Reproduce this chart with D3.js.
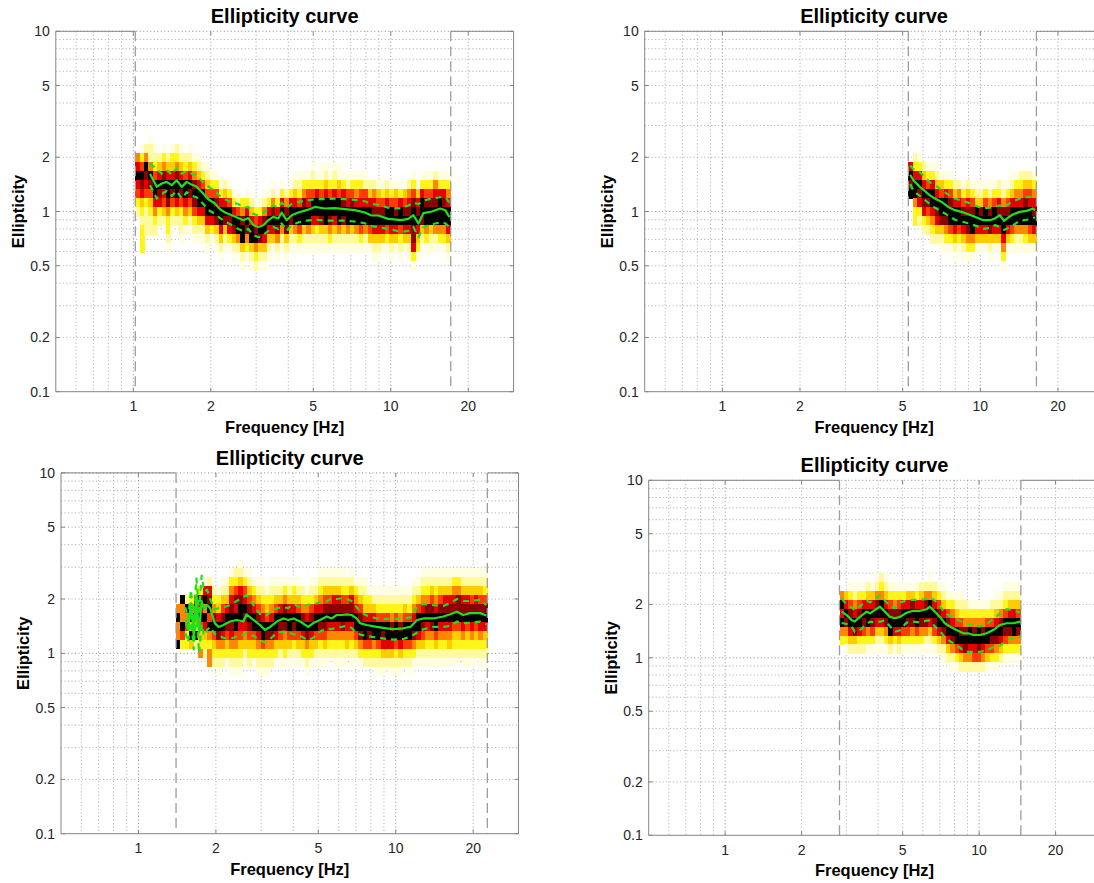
<!DOCTYPE html>
<html>
<head>
<meta charset="utf-8">
<script src="https://cdn.jsdelivr.net/npm/d3@7"></script>
<style>
  body { margin: 0; background: #fff; }
  svg { display: block; font-family: "Liberation Sans", Arial, Helvetica, sans-serif; }
  .title { font-size: 20px; font-weight: bold; fill: #000; }
  .axis-label { font-size: 16.5px; font-weight: bold; fill: #000; }
  .tick-label { font-size: 14px; fill: #262626; }
</style>
</head>
<body>
<svg id="chart" width="1094" height="883"></svg>
<script>
const xDomain = [0.5, 30];
const yDomain = [0.1, 10];
const xTickValues = [1, 2, 5, 10, 20];
const yTickValues = [0.1, 0.2, 0.5, 1, 2, 5, 10];
const binDecade = 0.05; // one histogram row = 0.05 decade of ellipticity

// histogram levels 0 (empty) .. 9 (most counts), flipped "hot" map
const levelColors = ["none", "#fffde2", "#fffa9e", "#fff51a", "#ffcc00", "#ff8800", "#ff3c00", "#e60000", "#8c0000", "#000000"];

// ---- panel 1 (top left) ----
const p1Range = [1.018, 17.1];
const p1TopRow = 8; // cells strings run from this row downwards
const p1Cells = [
  "00579 76320 00000", "01369 87432 33300", "02598 76322 20000", "12259 86432 20000",
  "01236 99753 20000", "00247 98732 00000", "01358 97642 10000", "00247 99853 32100",
  "01347 98632 10000", "02358 99742 00000", "01247 98632 21000", "00236 99753 10000",
  "01247 98642 10000", "00135 89863 21000", "00124 79974 21000", "00013 69974 21000",
  "00012 46997 42100", "00001 36997 31000", "00001 36898 42100", "00000 13799 74210",
  "00000 24798 42100", "00000 13698 73100", "00000 01379 84210", "00000 01269 95200",
  "00000 00358 99421", "00000 01379 85310", "00000 00247 99421", "00000 00136 89532",
  "00000 00137 98421", "00000 01258 97421", "00000 01379 74210", "00000 12589 74100",
  "00000 01379 85210", "00000 13799 52100", "00000 02589 84210", "00000 13798 42100",
  "00001 24799 52100", "00001 23699 63100", "00001 35899 42100", "00001 36799 52100",
  "00012 36997 42100", "00001 37997 32100", "00011 36998 42100", "00012 47999 42100",
  "00001 36998 53100", "00012 37997 42100", "00011 46999 52100", "00001 37898 42100",
  "00001 26799 52100", "00001 36899 42100", "00001 35799 52100", "00001 36799 63100",
  "00001 26799 52100", "00000 24799 64100", "00000 25789 74210", "00000 14689 74210",
  "00000 13689 74100", "00000 24799 63100", "00000 13699 74210", "00000 14689 74100",
  "00000 13799 63210", "00000 14689 74100", "00000 25789 74210", "00001 36899 88731",
  "00000 14789 74310", "00001 37998 42100", "00001 36899 53100", "00001 36899 42100",
  "00002 57899 52100", "00001 37999 53100", "00001 37899 53100", "00001 35799 74210"
];
const p1Freq = [1.161, 1.233, 1.289, 1.348, 1.41, 1.474, 1.542, 1.612, 1.686, 1.763,
  1.87, 1.955, 2.076, 2.172, 2.272, 2.412, 2.558, 2.674, 2.797, 2.925,
  3.059, 3.199, 3.345, 3.498, 3.658, 3.769, 3.942, 4.122, 4.372, 4.71,
  5.074, 5.548, 6.067, 6.634, 7.254, 7.932, 8.418, 8.937, 9.772, 11.01,
  11.69, 12.24, 12.81, 13.4, 14.45, 15.56, 16.29, 16.9];
const p1Median = [1.62, 1.37, 1.43, 1.46, 1.40, 1.49, 1.37, 1.46, 1.41, 1.37,
  1.26, 1.17, 1.107, 1.03, 0.987, 0.954, 0.92, 0.895, 0.92, 0.839,
  0.821, 0.839, 0.895, 0.933, 0.915, 0.987, 0.895, 0.954, 0.987, 1.017,
  1.06, 1.039, 1.045, 1.03, 1.017, 0.987, 0.95, 0.95, 0.91, 0.895,
  0.91, 0.954, 0.858, 0.98, 1.0, 1.039, 1.017, 0.93];
const p1Upper = [1.85, 1.72, 1.62, 1.70, 1.60, 1.75, 1.62, 1.68, 1.62, 1.58,
  1.45, 1.38, 1.30, 1.22, 1.17, 1.12, 1.10, 1.05, 1.06, 0.97,
  0.95, 0.98, 1.04, 1.08, 1.05, 1.12, 1.05, 1.10, 1.13, 1.15,
  1.17, 1.17, 1.18, 1.17, 1.16, 1.14, 1.10, 1.09, 1.05, 1.04,
  1.08, 1.12, 1.10, 1.15, 1.18, 1.20, 1.20, 1.12];
const p1Lower = [1.40, 1.18, 1.25, 1.30, 1.22, 1.30, 1.18, 1.28, 1.22, 1.20,
  1.10, 1.02, 0.97, 0.92, 0.88, 0.84, 0.80, 0.78, 0.80, 0.74,
  0.72, 0.74, 0.78, 0.82, 0.80, 0.86, 0.78, 0.84, 0.87, 0.89,
  0.90, 0.89, 0.89, 0.89, 0.88, 0.86, 0.83, 0.82, 0.80, 0.77,
  0.78, 0.82, 0.72, 0.82, 0.85, 0.87, 0.86, 0.82];

// ---- panel 2 (top right) ----
const p2Range = [5.26, 16.5];
const p2TopRow = 8;
const p2Cells = [
  "00079 89000 00000", "00237 99533 00000", "00137 98732 00000", "00024 79873 20000",
  "00013 69864 20000", "00013 79975 32000", "00012 47987 42000", "00001 46998 42100",
  "00001 37998 53100", "00001 36899 63100", "00000 24799 74210", "00000 25799 63100",
  "00000 13689 74210", "00000 24789 85310", "00000 13689 95310", "00000 12499 74100",
  "00000 12489 74100", "00000 13699 74100", "00000 12589 84210", "00000 13699 74100",
  "00000 23789 74100", "00000 12589 97531", "00000 13689 74100", "00001 24799 63100",
  "00001 35799 52100", "00002 35799 52100", "00002 46899 53100", "00002 46799 64100",
  "00001 35789 74100"
];
const p2Freq = [5.35, 5.5, 5.83, 6.38, 6.67, 7.08, 7.51, 7.97, 8.46, 8.98, 9.68,
  10.26, 10.89, 11.39, 11.91, 12.35, 12.83, 13.42, 14.23, 15.13, 16.03, 16.3];
const p2Median = [1.60, 1.49, 1.37, 1.23, 1.18, 1.13, 1.06, 1.017, 0.995, 0.966, 0.926,
  0.895, 0.895, 0.914, 0.954, 0.887, 0.926, 0.966, 0.995, 1.008, 1.039, 1.017];
const p2Upper = [1.80, 1.72, 1.65, 1.45, 1.40, 1.32, 1.24, 1.18, 1.15, 1.12, 1.07,
  1.04, 1.05, 1.07, 1.08, 1.05, 1.10, 1.14, 1.18, 1.20, 1.21, 1.18];
const p2Lower = [1.42, 1.30, 1.22, 1.10, 1.05, 1.00, 0.95, 0.90, 0.88, 0.86, 0.83,
  0.80, 0.81, 0.84, 0.82, 0.79, 0.81, 0.84, 0.89, 0.90, 0.92, 0.93];

// ---- panel 3 (bottom left) ----
const p3Range = [1.40, 22.7];
const p3TopRow = 10;
const p3Cells = [
  "00000 59559 0000", "00009 55963 0000", "00002 95633 0000", "00003 59494 0000",
  "00027 95392 0000", "00038 79643 5000", "00179 59743 2000", "00278 96953 5500",
  "00023 58964 3200", "00013 47985 3210", "00124 68975 3200", "00124 79864 3100",
  "01357 89875 3210", "02368 79965 3210", "12478 99764 3210", "01367 98754 2100",
  "01246 89864 3200", "00135 79964 3100", "00124 68975 3210", "00123 57996 3210",
  "00013 46985 3210", "00123 57985 3200", "00124 69974 3100", "00124 79864 2100",
  "00135 89854 3100", "00124 79964 2100", "00134 79863 2100", "00124 69964 2100",
  "00023 58974 3100", "00013 57985 3210", "00123 68974 3100", "00124 79964 2100",
  "01235 79863 2100", "01246 89864 2100", "01246 89753 2000", "01247 89753 2100",
  "01247 89753 2100", "01236 89853 2100", "00236 89754 2000", "01247 89753 2100",
  "00135 79964 2100", "00124 68985 3100", "00123 47996 3200", "00013 47986 3200",
  "00012 47995 3200", "00012 36996 3210", "00012 36987 4210", "00012 36997 4200",
  "00012 35897 4210", "00012 36996 3210", "00012 35897 4210", "00012 46996 3200",
  "00012 36996 3210", "00123 57985 3100", "00124 69974 2100", "01235 79864 2100",
  "01235 89753 2100", "01246 89853 2100", "01235 79964 2100", "01246 89753 2100",
  "01247 89753 2100", "01247 89754 2100", "01357 89643 2100", "01358 89643 2000",
  "01247 89753 2100", "01247 89643 2100", "01246 89753 2100", "01247 89643 2000",
  "01246 89753 2100", "01236 89743 2100"
];
const p3Freq = [1.52, 1.56, 1.60, 1.64, 1.68, 1.72, 1.76, 1.80, 1.85, 1.90,
  1.98, 2.05, 2.14, 2.27, 2.41, 2.56, 2.63, 2.80, 2.97, 3.10,
  3.25, 3.45, 3.66, 3.82, 4.0, 4.25, 4.57, 4.78, 5.08, 5.39,
  5.64, 5.9, 6.17, 6.45, 6.74, 7.05, 7.26, 7.71, 8.43, 9.22,
  9.79, 10.7, 11.4, 12.1, 12.8, 14.0, 15.3, 16.3, 17.3, 18.3,
  19.4, 21.3, 22.5];
const p3Median = [1.55, 1.35, 1.9, 1.25, 2.1, 1.3, 1.95, 1.75, 1.85, 1.78,
  1.47, 1.40, 1.435, 1.50, 1.53, 1.50, 1.645, 1.53, 1.435, 1.346,
  1.40, 1.50, 1.56, 1.53, 1.56, 1.50, 1.40, 1.47, 1.53, 1.60,
  1.56, 1.63, 1.63, 1.645, 1.63, 1.56, 1.47, 1.435, 1.40, 1.376,
  1.363, 1.376, 1.40, 1.53, 1.56, 1.56, 1.60, 1.645, 1.70, 1.63,
  1.67, 1.67, 1.62];
const p3Upper = [1.8, 1.55, 2.25, 1.45, 2.6, 1.7, 2.7, 2.2, 2.25, 2.0,
  1.75, 1.78, 1.80, 1.85, 1.95, 2.05, 2.10, 1.85, 1.65, 1.60,
  1.68, 1.78, 1.80, 1.78, 1.87, 1.80, 1.86, 1.85, 1.93, 1.94,
  2.02, 2.0, 2.02, 2.0, 1.95, 1.80, 1.70, 1.62, 1.56, 1.55,
  1.55, 1.56, 1.58, 1.80, 1.88, 1.85, 1.83, 1.90, 2.0, 1.95,
  1.95, 1.98, 1.85];
const p3Lower = [1.30, 1.15, 1.6, 1.05, 1.75, 1.0, 1.45, 1.25, 1.35, 1.40,
  1.28, 1.25, 1.22, 1.20, 1.24, 1.27, 1.30, 1.25, 1.18, 1.15,
  1.20, 1.30, 1.32, 1.30, 1.28, 1.25, 1.18, 1.22, 1.32, 1.37,
  1.36, 1.39, 1.40, 1.42, 1.38, 1.30, 1.27, 1.25, 1.22, 1.20,
  1.19, 1.20, 1.24, 1.30, 1.36, 1.40, 1.40, 1.42, 1.50, 1.47,
  1.48, 1.50, 1.45];

// ---- panel 4 (bottom right) ----
const p4Range = [2.82, 14.6];
const p4TopRow = 9;
const p4Cells = [
  "00597 95300 0", "00479 85310 0", "01368 97420 0", "01257 98420 0", "01368 97320 0",
  "01379 86320 0", "02479 95310 0", "01479 86310 0", "12589 74210 0", "23599 74210 0",
  "12479 85310 0", "01368 99420 0", "01358 97310 0", "01368 97420 0", "01379 96310 0",
  "01479 86310 0", "01489 85310 0", "01379 96310 0", "02479 85310 0", "02589 85210 0",
  "12599 74210 0", "02479 86310 0", "01368 97420 0", "01247 98521 0", "00136 89742 0",
  "00135 79852 1", "00124 69963 1", "00123 68974 2", "00023 58985 2", "00013 59975 2",
  "00013 58976 2", "00013 59986 2", "00013 58975 2", "00013 69964 1", "00023 69863 1",
  "00124 79853 1", "00125 89742 0", "01236 98631 0", "01247 98531 0", "01247 99531 0",
  "01246 98531 0"
];
const p4Freq = [2.875, 3.01, 3.15, 3.24, 3.39, 3.61, 3.72, 3.89, 4.07, 4.26,
  4.46, 4.66, 4.88, 5.18, 5.50, 5.85, 6.21, 6.40, 6.70, 7.01,
  7.33, 7.67, 8.15, 8.66, 9.06, 9.48, 10.07, 10.7, 11.36, 12.07,
  12.83, 13.62, 14.48];
const p4Median = [1.82, 1.74, 1.63, 1.60, 1.70, 1.82, 1.78, 1.86, 1.94, 1.82,
  1.70, 1.67, 1.70, 1.795, 1.84, 1.84, 1.876, 1.94, 1.82, 1.70,
  1.565, 1.50, 1.434, 1.374, 1.374, 1.344, 1.344, 1.374, 1.434, 1.53,
  1.565, 1.565, 1.60];
const p4Upper = [2.15, 2.0, 1.92, 1.85, 1.95, 2.10, 2.05, 2.15, 2.25, 2.10,
  1.95, 1.90, 2.05, 2.10, 2.12, 2.12, 2.15, 2.20, 2.10, 1.95,
  1.80, 1.72, 1.65, 1.58, 1.55, 1.52, 1.50, 1.55, 1.65, 1.78,
  1.88, 1.85, 1.80];
const p4Lower = [1.57, 1.55, 1.50, 1.40, 1.43, 1.55, 1.60, 1.58, 1.60, 1.62,
  1.50, 1.40, 1.43, 1.58, 1.60, 1.58, 1.62, 1.62, 1.50, 1.42,
  1.30, 1.24, 1.18, 1.10, 1.08, 1.08, 1.08, 1.10, 1.15, 1.17,
  1.25, 1.30, 1.32];

class EllipticityPanel {
  constructor(svg, { frame, range, topRow, cells, freq, median, upper, lower }) {
    this.svg = svg;
    this.frame = frame;
    this.range = range;
    this.topRow = topRow;
    this.cells = cells;
    this.freq = freq;
    this.median = median;
    this.upper = upper;
    this.lower = lower;
    this.init();
  }

  init() {
    this.setup();
    this.scaffold();
    this.render();
  }

  setup() {
    const { left, top, width, height } = this.frame;
    this.axisColor = "#858585";
    this.green = "#1ee01e";
    this.tickLength = 4;
    this.x = d3.scaleLog().domain(xDomain).range([left, left + width]);
    this.y = d3.scaleLog().domain(yDomain).range([top + height, top]);
  }

  scaffold() {
    this.g = this.svg.append("g").attr("class", "panel");
    this.gGrid = this.g.append("g").attr("class", "grid-g");
    this.gCells = this.g.append("g").attr("class", "cells-g").attr("shape-rendering", "crispEdges");
    this.gLimits = this.g.append("g").attr("class", "limits-g");
    this.gCurves = this.g.append("g").attr("class", "curves-g");
    this.gAxes = this.g.append("g").attr("class", "axes-g");
    this.gText = this.g.append("g").attr("class", "text-g");
  }

  render() {
    const { x, y } = this;
    const [xl, xr] = x.range();
    const [yb, yt] = y.range();
    const isDecade = (d) => Math.abs(Math.log10(d) - Math.round(Math.log10(d))) < 1e-9;

    // dotted major + minor grid
    this.gGrid
      .selectAll(".vgrid")
      .data(x.ticks().filter((d) => d > xDomain[0] && d < xDomain[1]))
      .join("line")
      .attr("class", "vgrid")
      .attr("x1", (d) => x(d))
      .attr("x2", (d) => x(d))
      .attr("y1", yt)
      .attr("y2", yb)
      .attr("stroke", (d) => (isDecade(d) ? "#8a8a8a" : "#aaaaaa"))
      .attr("stroke-dasharray", "1,2.5");
    this.gGrid
      .selectAll(".hgrid")
      .data(y.ticks().filter((d) => d > yDomain[0]))
      .join("line")
      .attr("class", "hgrid")
      .attr("x1", xl)
      .attr("x2", xr)
      .attr("y1", (d) => y(d))
      .attr("y2", (d) => y(d))
      .attr("stroke", (d) => (isDecade(d) ? "#8a8a8a" : "#aaaaaa"))
      .attr("stroke-dasharray", "1,2.5");

    // histogram cells: columns evenly spaced (log) across the data range
    const col = d3
      .scaleLinear()
      .domain([0, this.cells.length])
      .range([x(this.range[0]), x(this.range[1])]);
    const cellData = this.cells
      .flatMap((s, j) =>
        Array.from(s.replace(/ /g, ""), (c, k) => ({ j, n: this.topRow - k, level: +c }))
      )
      .filter((d) => d.level > 0);
    const rowTop = (n) => y(Math.pow(10, (n + 0.5) * binDecade));
    const rowBottom = (n) => y(Math.pow(10, (n - 0.5) * binDecade));
    this.gCells
      .selectAll("rect")
      .data(cellData)
      .join("rect")
      .attr("x", (d) => col(d.j))
      .attr("width", (d) => col(d.j + 1) - col(d.j) + 0.6)
      .attr("y", (d) => rowTop(d.n))
      .attr("height", (d) => rowBottom(d.n) - rowTop(d.n) + 0.6)
      .attr("fill", (d) => levelColors[d.level]);

    // dashed frequency limits
    this.gLimits
      .selectAll("line")
      .data(this.range)
      .join("line")
      .attr("x1", (d) => x(d))
      .attr("x2", (d) => x(d))
      .attr("y1", yt)
      .attr("y2", yb)
      .attr("stroke", "#9c9c9c")
      .attr("stroke-width", 1.3)
      .attr("stroke-dasharray", "10,5");

    // median and +/- curves
    const line = d3
      .line()
      .x((d) => x(d[0]))
      .y((d) => y(d[1]));
    const curves = [
      { values: this.upper, dash: "6,5" },
      { values: this.lower, dash: "6,5" },
      { values: this.median, dash: null },
    ];
    this.gCurves
      .selectAll("path")
      .data(curves)
      .join("path")
      .attr("d", (d) => line(d3.zip(this.freq, d.values)))
      .attr("fill", "none")
      .attr("stroke", this.green)
      .attr("stroke-width", 2.2)
      .attr("stroke-linejoin", "round")
      .attr("stroke-dasharray", (d) => d.dash);

    // box: the top edge is hidden over the data range, as in the original
    const edges = [
      [xl, yt, xl, yb],
      [xl, yb, xr, yb],
      [xr, yt, xr, yb],
      [xl, yt, x(this.range[0]), yt],
      [x(this.range[1]), yt, xr, yt],
    ];
    const tl = this.tickLength;
    xTickValues.forEach((v) => {
      edges.push([x(v), yb, x(v), yb - tl], [x(v), yt, x(v), yt + tl]);
    });
    yTickValues.forEach((v) => {
      edges.push([xl, y(v), xl + tl, y(v)], [xr, y(v), xr - tl, y(v)]);
    });
    this.gAxes
      .selectAll("line")
      .data(edges)
      .join("line")
      .attr("x1", (d) => d[0])
      .attr("y1", (d) => d[1])
      .attr("x2", (d) => d[2])
      .attr("y2", (d) => d[3])
      .attr("stroke", this.axisColor)
      .attr("stroke-width", 1);

    // texts
    this.gText
      .selectAll(".xtick")
      .data(xTickValues)
      .join("text")
      .attr("class", "tick-label xtick")
      .attr("x", (d) => x(d))
      .attr("y", yb + 19.5)
      .attr("text-anchor", "middle")
      .text((d) => d);
    this.gText
      .selectAll(".ytick")
      .data(yTickValues)
      .join("text")
      .attr("class", "tick-label ytick")
      .attr("x", xl - 6)
      .attr("y", (d) => y(d))
      .attr("dy", "0.36em")
      .attr("text-anchor", "end")
      .text((d) => d);
    this.gText
      .append("text")
      .attr("class", "title")
      .attr("x", (xl + xr) / 2)
      .attr("y", yt - 8)
      .attr("text-anchor", "middle")
      .text("Ellipticity curve");
    this.gText
      .append("text")
      .attr("class", "axis-label")
      .attr("x", (xl + xr) / 2)
      .attr("y", yb + 41)
      .attr("text-anchor", "middle")
      .text("Frequency [Hz]");
    this.gText
      .append("text")
      .attr("class", "axis-label")
      .attr("transform", `translate(${xl - 32},${(yt + yb) / 2}) rotate(-90)`)
      .attr("text-anchor", "middle")
      .text("Ellipticity");
  }
}

const svg = d3.select("#chart");
new EllipticityPanel(svg, {
  frame: { left: 55.8, top: 31.3, width: 457.8, height: 360.4 },
  range: p1Range, topRow: p1TopRow, cells: p1Cells,
  freq: p1Freq, median: p1Median, upper: p1Upper, lower: p1Lower,
});
new EllipticityPanel(svg, {
  frame: { left: 644.7, top: 31.3, width: 458.7, height: 360.4 },
  range: p2Range, topRow: p2TopRow, cells: p2Cells,
  freq: p2Freq, median: p2Median, upper: p2Upper, lower: p2Lower,
});
new EllipticityPanel(svg, {
  frame: { left: 61.0, top: 472.9, width: 457.5, height: 360.8 },
  range: p3Range, topRow: p3TopRow, cells: p3Cells,
  freq: p3Freq, median: p3Median, upper: p3Upper, lower: p3Lower,
});
new EllipticityPanel(svg, {
  frame: { left: 648.7, top: 480.3, width: 451.6, height: 355.0 },
  range: p4Range, topRow: p4TopRow, cells: p4Cells,
  freq: p4Freq, median: p4Median, upper: p4Upper, lower: p4Lower,
});
</script>
</body>
</html>
